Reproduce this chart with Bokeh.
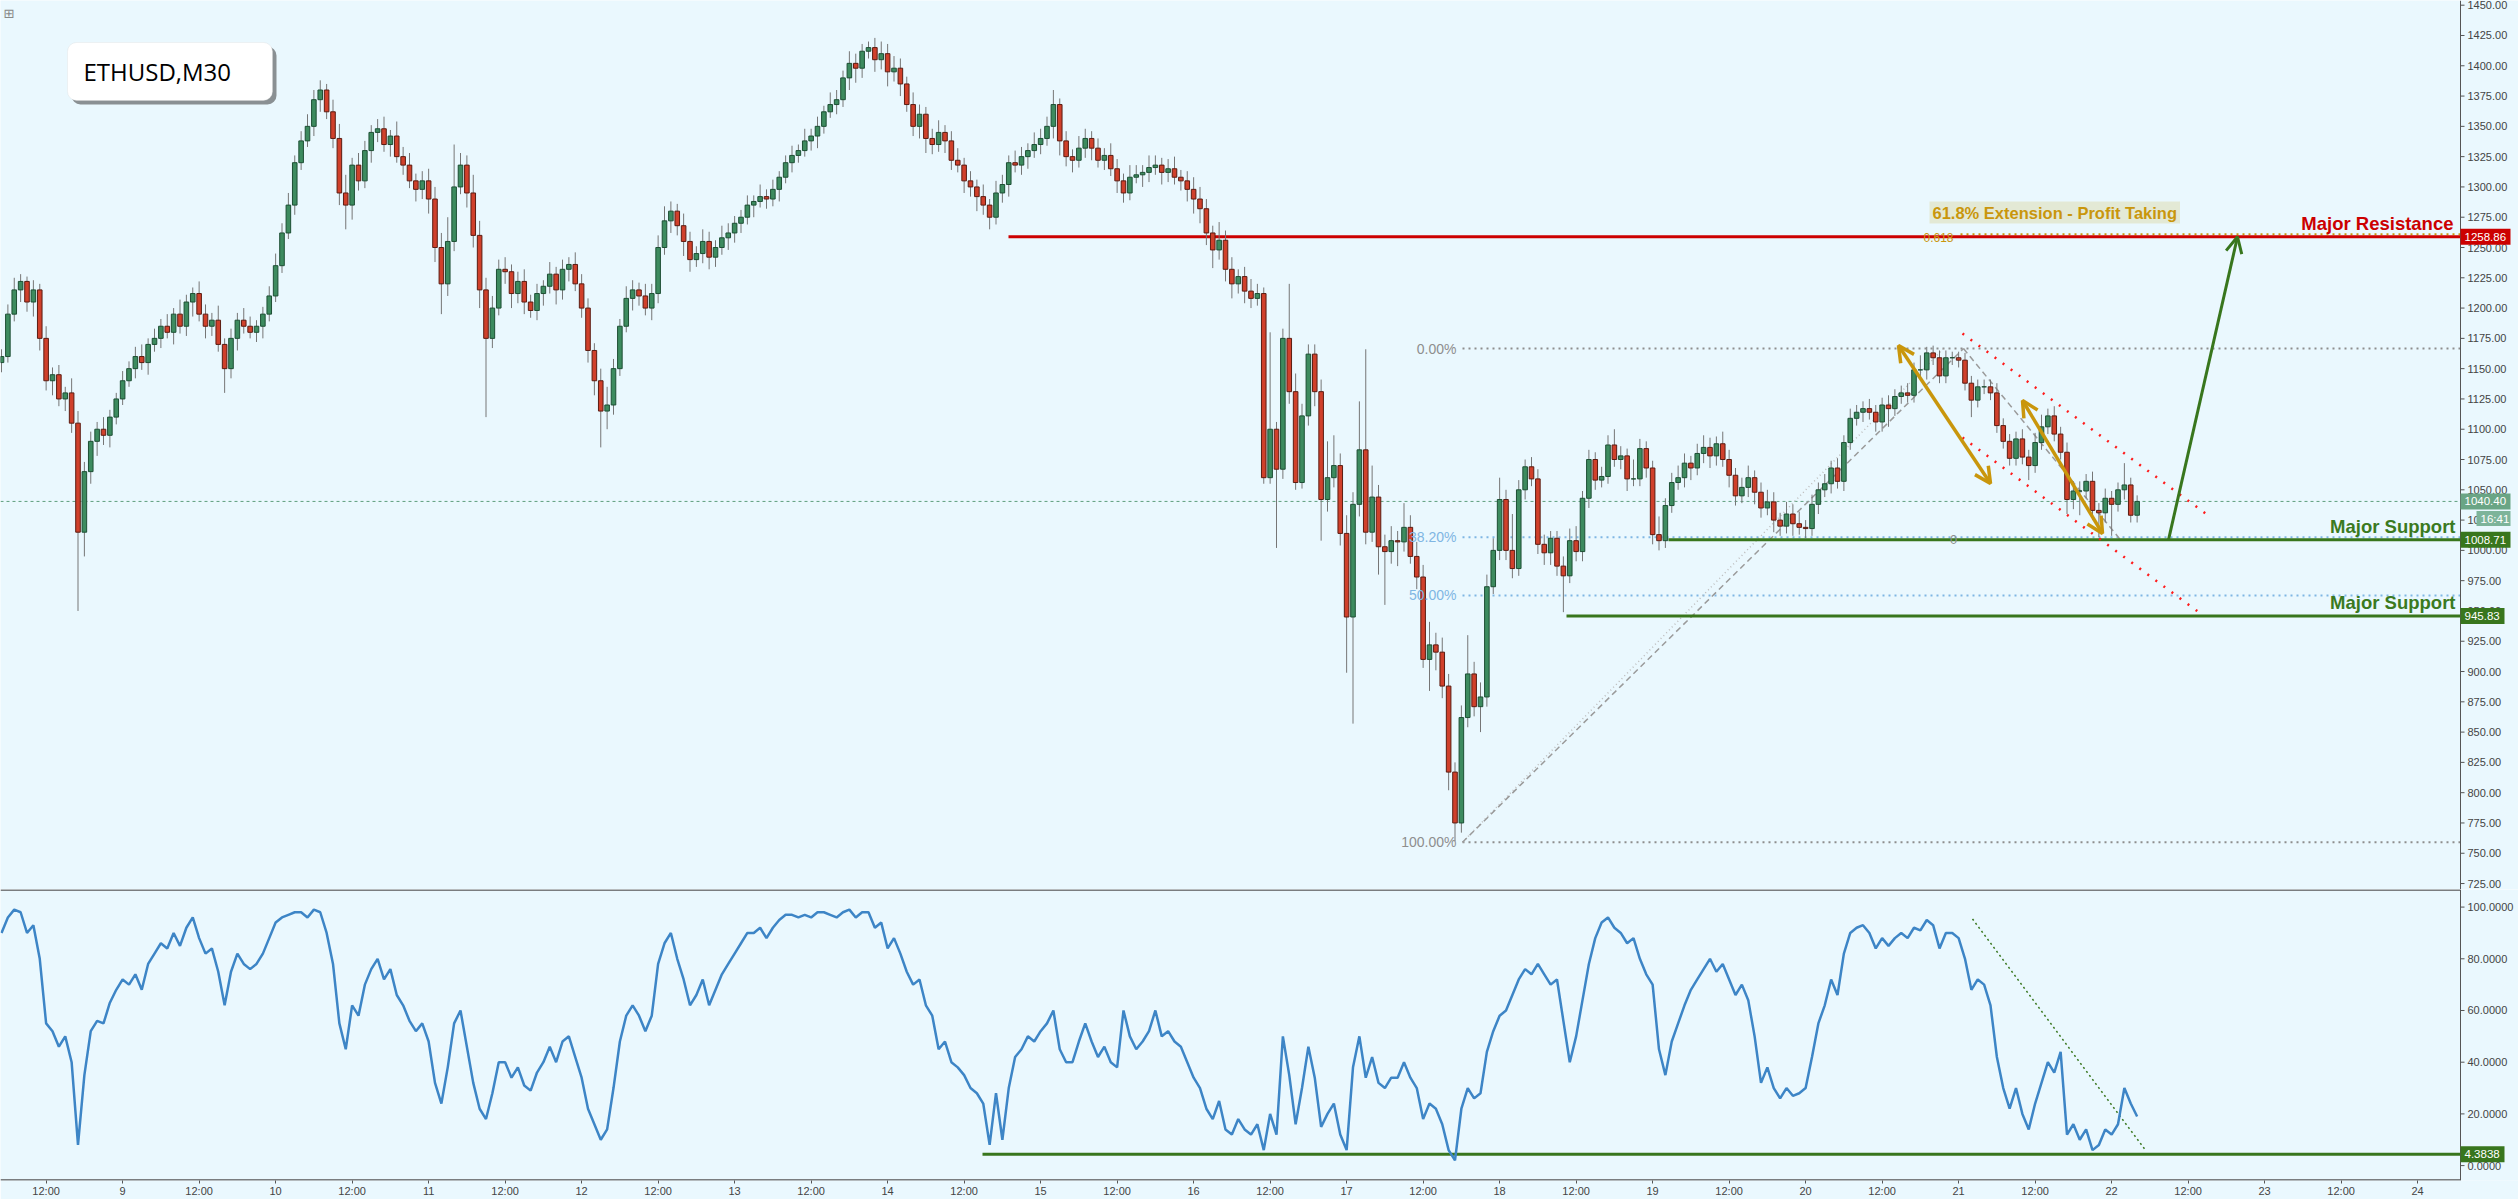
from bokeh.plotting import figure
from bokeh.layouts import column
from bokeh.models import (Range1d, FixedTicker, Label, BoxAnnotation, Arrow, OpenHead,
                          ColumnDataSource)
from bokeh.core.properties import value
from bokeh.embed import file_html
from bokeh.resources import INLINE

# ---------------- data (ETHUSD, hourly resampled from the M30 chart) ----------------
first_open = 1155.0
closes = [
    1160,1195,1215,1222,1205,1215,1175,1140,1145,1125,1130,1105,1015,1065,1090,1100,1095,1110,1125,1140,
    1150,1160,1155,1170,1175,1185,1180,1195,1185,1205,1212,1195,1185,1190,1170,1150,1175,1190,1185,1180,1185,1195,1210,1235,
    1262,1285,1320,1338,1350,1372,1380,1362,1340,1295,1285,1318,1305,1330,1345,1348,1335,1342,1325,1318,1305,1298,1305,1290,
    1250,1220,1255,1300,1318,1295,1260,1215,1175,1200,1232,1230,1212,1222,1205,1198,1212,1218,1228,1215,1232,1236,1220,1200,
    1165,1140,1115,1120,1150,1185,1208,1215,1210,1200,1212,1250,1272,1280,1268,1255,1240,1245,1255,1242,1250,1258,1262,1270,
    1275,1285,1288,1292,1290,1298,1308,1320,1326,1330,1338,1342,1350,1362,1368,1372,1390,1402,1398,1412,1415,1405,1410,1395,
    1398,1385,1368,1350,1360,1340,1335,1345,1338,1322,1318,1305,1300,1292,1285,1275,1295,1302,1320,1318,1325,1330,1335,1340,
    1350,1368,1338,1325,1322,1332,1340,1332,1322,1326,1315,1305,1295,1308,1310,1312,1316,1318,1312,1315,1308,1305,1298,1290,
    1282,1262,1248,1256,1232,1220,1226,1214,1208,1212,1060,1100,1067,1175,1131,1056,1111,1162,1131,1042,1060,1070,1014,945,
    1038,1083,1015,1044,1003,999,1008,1007,1019,995,978,910,922,916,888,817,775,862,898,871,879,970,1000,1042,
    1000,985,1050,1069,1059,1005,998,1010,987,979,1008,999,1043,1075,1058,1061,1087,1075,1078,1059,1059,1084,1068,1013,
    1008,1037,1056,1060,1072,1068,1080,1085,1078,1088,1075,1062,1045,1052,1060,1048,1035,1040,1025,1020,1030,1022,1019,1018,
    1038,1050,1055,1068,1057,1089,1109,1114,1117,1114,1106,1120,1117,1127,1130,1128,1149,1149,1163,1159,1144,1159,1159,1157,
    1138,1124,1135,1135,1130,1103,1090,1076,1092,1077,1070,1089,1102,1111,1096,1081,1042,1049,1049,1057,1033,1031,1043,1038,
    1050,1054,1029,1040.4,
]
wick_up = [
    6,8,10,6,4,8,5,10,6,8,5,12,10,8,8,6,10,6,5,8,
    6,8,10,5,8,6,10,5,12,6,5,10,8,6,12,5,8,6,10,8,5,6,8,10,
    8,10,6,8,10,8,8,5,10,12,15,6,10,8,6,8,10,5,12,8,10,6,8,10,
    10,12,20,35,10,8,15,12,10,10,8,10,6,8,10,6,8,5,10,6,8,6,10,8,
    8,6,10,15,8,6,10,8,6,10,8,10,12,8,6,10,8,6,10,8,6,10,8,6,
    6,8,5,10,6,8,5,6,8,5,10,6,8,5,10,8,6,10,8,6,5,8,10,8,
    10,8,6,10,8,6,8,10,6,8,10,6,8,6,10,5,10,8,6,10,8,6,10,8,
    8,12,5,8,6,10,8,6,8,6,10,8,6,10,8,6,10,8,6,8,10,6,8,10,
    10,8,6,15,8,10,6,8,10,8,5,80,6,8,45,15,10,8,8,10,30,25,10,15,
    10,40,83,26,10,10,12,8,20,10,12,10,19,10,12,10,8,10,32,10,12,10,10,18,
    8,30,8,6,8,8,8,6,6,8,10,12,6,8,6,8,8,13,8,6,16,8,6,6,
    15,6,8,10,8,6,8,10,8,6,10,8,6,8,10,6,8,10,8,6,10,8,10,6,
    8,6,8,6,8,6,8,6,6,8,6,6,8,6,6,8,6,12,5,6,6,6,5,5,
    6,6,6,6,6,8,6,6,6,8,6,8,10,6,8,6,8,8,8,6,8,6,8,6,
    6,18,6,5,
]
wick_dn = [
    8,5,6,10,8,12,10,8,12,6,10,8,65,20,10,12,8,10,6,5,
    5,8,6,10,6,8,5,10,6,8,12,6,10,8,6,20,8,10,6,5,8,10,6,5,
    6,5,8,6,5,8,10,6,8,10,20,12,8,6,10,8,6,10,5,8,6,10,8,12,
    12,25,10,8,6,12,10,15,65,8,6,10,12,8,10,6,8,10,6,12,8,10,6,8,
    10,12,30,15,8,6,5,10,8,6,10,8,6,10,8,12,10,6,8,10,8,6,10,8,
    8,6,10,5,8,6,10,5,8,6,5,8,10,6,5,8,6,10,12,8,6,10,8,12,
    8,10,6,8,10,12,8,6,10,8,6,10,8,12,8,10,6,8,10,6,8,10,6,8,
    6,10,12,8,10,6,8,10,6,8,6,10,8,6,5,10,8,6,10,8,6,8,10,12,
    12,10,15,8,10,12,8,10,8,6,5,5,65,8,10,6,5,8,12,34,10,8,10,46,
    88,10,10,8,23,44,10,20,8,6,10,7,26,15,10,15,15,8,8,8,21,8,6,8,
    8,8,6,8,6,8,10,10,8,30,6,8,8,8,8,6,6,6,8,10,6,6,8,8,
    8,6,6,6,8,10,6,8,10,8,6,10,8,6,8,10,8,6,10,8,6,10,6,8,
    6,8,6,8,6,8,6,6,8,6,8,8,15,6,6,6,6,6,8,6,6,6,6,6,
    6,14,6,6,6,6,6,6,6,6,12,6,6,6,6,6,12,8,20,6,8,20,8,26,
    6,8,6,6,
]
rsi = [
    90,96,99,98,90,93,80,55,52,46,50,40,8,35,52,56,55,63,68,72,
    70,74,68,78,82,86,84,90,85,92,96,88,82,84,75,62,75,82,78,76,78,82,88,94,
    96,97,98,98,96,99,98,90,78,55,45,62,58,70,76,80,72,76,66,62,56,52,55,48,
    32,24,38,55,60,46,32,22,18,28,40,40,34,38,31,29,36,40,46,40,48,50,42,34,
    22,16,10,14,30,48,58,62,58,52,58,78,86,90,80,72,62,66,72,62,68,74,78,82,
    86,90,90,92,88,92,95,97,97,96,97,96,98,98,97,96,98,99,96,98,98,92,94,84,
    88,82,75,70,72,62,58,45,48,40,38,35,30,28,24,8,28,10,30,42,45,50,48,52,
    55,60,45,40,40,48,55,48,42,46,40,38,60,50,45,48,52,60,50,52,48,46,40,34,
    30,22,18,25,14,12,18,14,12,16,6,20,12,50,35,16,30,46,34,15,20,24,12,6,
    38,50,34,42,32,30,34,34,40,34,30,18,24,22,16,6,2,22,30,26,28,44,52,58,
    60,66,72,76,74,78,74,70,72,56,40,50,64,78,88,94,96,92,90,86,88,80,74,70,
    45,35,48,55,62,68,72,76,80,75,78,72,66,70,64,50,32,38,30,26,30,27,28,30,
    42,55,62,72,66,82,90,92,93,90,84,88,85,88,90,88,92,91,95,93,84,90,90,88,
    80,68,72,70,62,42,30,22,30,20,14,24,32,40,36,44,12,16,10,14,6,8,14,12,
    16,30,24,19,
]
first_bar_hour = 5            # first bar: Jan 8, 05:00
axis_days = ["9","10","11","12","13","14","15","16","17","18","19","20","21","22","23","24"]
price_ticks = list(range(725, 1451, 25))
rsi_ticks = [0, 20, 40, 60, 80, 100]

resistance = 1258.86
supports = [1008.71, 945.83]
last_price = 1040.40
last_time = "16:41"
rsi_support = 4.3838
fib_high, fib_low = 1166.6, 759.1
fib_levels = [("0.00%", 0.0), ("38.20%", 0.382), ("50.00%", 0.5), ("100.00%", 1.0)]
ext_level = 1261.0

# ---------------- styling / helpers ----------------
BG = "#eaf8fe"
GREEN = "#38761d"
RED = "#cc0000"
GOLD = "#c9960c"
AX = "#555555"
FONT = "Liberation Sans"
W, H_PRICE, H_RSI = 2518, 889, 310
AXIS_PX = 2460                 # pixel column of the price / RSI scale

def hx(px):          # reference pixel column -> hours
    return (px - 1.0) / 6.375

def py(px):          # reference pixel row -> price
    return 1450 - (px - 4.7) / 1.2115

def dxp(px):         # pixel width -> hours
    return px / 6.375

X_START, X_END, X_AX = hx(0), hx(W), hx(AXIS_PX)
Y_LO, Y_HI = py(H_PRICE), py(0)
R_LO, R_HI = -5.76, 106.8
RSI_FRAME_H = H_RSI - 21
P_PX = (Y_HI - Y_LO) / H_PRICE          # price units per pixel
R_PX = (R_HI - R_LO) / RSI_FRAME_H      # rsi units per pixel

n = min(len(closes), len(wick_up), len(wick_dn))
hours = list(range(n))
opens = [first_open] + closes[:n - 1]
tops = [max(o, c) for o, c in zip(opens, closes)]
bots = [min(o, c) for o, c in zip(opens, closes)]
highs = [t + w for t, w in zip(tops, wick_up)]
lows = [b - w for b, w in zip(bots, wick_dn)]
up = [c >= o for o, c in zip(opens, closes)]

src_up = ColumnDataSource(dict(
    x=[h for h, u in zip(hours, up) if u], top=[t for t, u in zip(tops, up) if u],
    bottom=[b for b, u in zip(bots, up) if u]))
src_dn = ColumnDataSource(dict(
    x=[h for h, u in zip(hours, up) if not u], top=[t for t, u in zip(tops, up) if not u],
    bottom=[b for b, u in zip(bots, up) if not u]))
src_wick = ColumnDataSource(dict(x=hours, hi=highs, lo=lows))


def mk_label(fig, **kw):
    extra = {}
    for k in ("padding", "border_radius"):
        if k in kw:
            extra[k] = kw.pop(k)
    try:
        lab = Label(**kw, **extra)
    except Exception:
        lab = Label(**kw)
    fig.add_layout(lab)
    return lab


def price_scale(fig, ticks, fmt, lo, hi):
    """Right-hand value scale drawn inside the extended frame."""
    fig.segment(x0=[X_AX], y0=[lo], x1=[X_AX], y1=[hi], line_color=AX, line_width=1)
    fig.segment(x0=[X_AX] * len(ticks), y0=ticks, x1=[X_AX + dxp(4)] * len(ticks), y1=ticks,
                line_color=AX, line_width=1)
    fig.text(x=[X_AX + dxp(7)] * len(ticks), y=ticks, text=[fmt % t for t in ticks],
             text_font=value(FONT), text_font_size=value("11px"), text_color="#444444",
             text_align="left", text_baseline="middle")


def tag(fig, yv, txt, bg, unit, x0=AXIS_PX, w=50, h=16):
    fig.quad(left=[hx(x0)], right=[hx(x0 + w)], bottom=[yv - unit * h / 2],
             top=[yv + unit * h / 2], fill_color=bg, line_color=None)
    fig.text(x=[hx(x0 + 4)], y=[yv], text=[txt], text_font=value(FONT),
             text_font_size=value("11.5px"), text_color="white", text_align="left",
             text_baseline="middle")


# ---------------- price panel ----------------
p = figure(width=W, height=H_PRICE, x_range=Range1d(X_START, X_END), y_range=Range1d(Y_LO, Y_HI),
           output_backend="svg", toolbar_location=None, x_axis_location=None,
           y_axis_location=None, min_border=0)
p.background_fill_color = BG
p.border_fill_color = BG
p.outline_line_color = None
p.grid.visible = False

# current price line
p.segment(x0=[X_START], y0=[last_price], x1=[X_AX], y1=[last_price], line_color="#5e9e7e",
          line_dash="3 3", line_width=1)

# fibonacci retracement levels
fx0 = hx(1462)
for name, f in fib_levels:
    lvl = fib_high - f * (fib_high - fib_low)
    col = "#8e8e8e" if f in (0.0, 1.0) else "#7fb6e3"
    p.segment(x0=[fx0], y0=[lvl], x1=[X_AX], y1=[lvl], line_color=col, line_width=2,
              line_dash="2 4")
    mk_label(p, x=hx(1456), y=lvl, text=name, text_align="right", text_baseline="middle",
             text_font=FONT, text_font_size="14px", text_color=col)

# fib trend lines
p.segment(x0=[fx0], y0=[fib_low], x1=[hx(1943)], y1=[fib_high], line_color="#bdbdbd",
          line_width=1.5, line_dash="1 3")
p.segment(x0=[fx0, hx(1963)], y0=[fib_low, fib_high], x1=[hx(1963), hx(2120)],
          y1=[fib_high, supports[0]], line_color="#9a9a9a", line_width=1.5, line_dash="6 4")
mk_label(p, x=hx(1953), y=supports[0], text="0", text_align="center", text_baseline="middle",
         text_font=FONT, text_font_size="13px", text_color="#8e8e8e")

# extension level
p.segment(x0=[hx(1960)], y0=[ext_level], x1=[X_AX], y1=[ext_level], line_color=GOLD,
          line_width=2, line_dash="2 4")
mk_label(p, x=hx(1923), y=ext_level - 3, text="0.618", text_align="left", text_baseline="middle",
         text_font=FONT, text_font_size="12px", text_color=GOLD)

# resistance / support lines
p.segment(x0=[hx(1008)], y0=[resistance], x1=[X_AX], y1=[resistance], line_color=RED, line_width=3)
p.segment(x0=[hx(1668), hx(1566)], y0=supports, x1=[X_AX, X_AX], y1=supports,
          line_color=GREEN, line_width=3)

# descending channel (red dotted)
p.segment(x0=[hx(1962), hx(1962)], y0=[py(333), py(437)], x1=[hx(2205), hx(2200)],
          y1=[py(513), py(613)], line_color="#ff1a1a", line_width=2.5, line_dash="2 8")

# candles
p.segment(x0="x", y0="lo", x1="x", y1="hi", source=src_wick, line_color="#767676", line_width=1)
p.vbar(x="x", width=0.72, top="top", bottom="bottom", source=src_up,
       fill_color="#3d8b5f", line_color="#1d4f34", line_width=1)
p.vbar(x="x", width=0.72, top="top", bottom="bottom", source=src_dn,
       fill_color="#d0402b", line_color="#5b1c12", line_width=1)

# arrows
for (xa, ya, xb, yb) in [(1898, 345, 1990, 483), (2022, 400, 2102, 533)]:
    p.add_layout(Arrow(x_start=hx(xa), y_start=py(ya), x_end=hx(xb), y_end=py(yb),
                       line_color=GOLD, line_width=3.5,
                       start=OpenHead(line_color=GOLD, line_width=3.5, size=16),
                       end=OpenHead(line_color=GOLD, line_width=3.5, size=16)))
p.add_layout(Arrow(x_start=hx(2168), y_start=supports[0], x_end=hx(2237), y_end=resistance,
                   line_color=GREEN, line_width=3,
                   end=OpenHead(line_color=GREEN, line_width=3, size=16)))

# text annotations
mk_label(p, x=hx(2453), y=resistance, y_offset=3, text="Major Resistance", text_align="right",
         text_baseline="bottom", text_font=FONT, text_font_size="18.5px",
         text_font_style="bold", text_color=RED)
for s in supports:
    mk_label(p, x=hx(2455), y=s, y_offset=3, text="Major Support", text_align="right",
             text_baseline="bottom", text_font=FONT, text_font_size="18.5px",
             text_font_style="bold", text_color="#3b7a1f")
mk_label(p, x=hx(1929), y=py(212), text="61.8% Extension - Profit Taking", text_align="left",
         text_baseline="middle", text_font=FONT, text_font_size="16.5px", text_font_style="bold",
         text_color=GOLD, background_fill_color="#e3e9d5", padding=(3, 2))

# title box
def box(**kw):
    try:
        b = BoxAnnotation(**kw, border_radius=9)
    except Exception:
        b = BoxAnnotation(**kw)
    p.add_layout(b)

box(left=hx(71), right=hx(276), top=py(46), bottom=py(104), fill_color="#3a3a3a",
    fill_alpha=0.55, line_color=None)
box(left=hx(67), right=hx(272), top=py(42), bottom=py(100), fill_color="white",
    fill_alpha=1.0, line_color="#d8d8d8", line_width=1)
mk_label(p, x=hx(83), y=py(71), text="ETHUSD,M30", text_align="left", text_baseline="middle",
         text_font="Open Sans", text_font_size="24px", text_color="black")
mk_label(p, x=hx(3), y=py(13), text="\u229e", text_align="left", text_baseline="middle",
         text_font="DejaVu Sans", text_font_size="13px", text_color="#888888")

# price scale + tags
price_scale(p, price_ticks, "%.2f", Y_LO, Y_HI)
tag(p, resistance, "%.2f" % resistance, RED, P_PX)
tag(p, last_price, "%.2f" % last_price, "#6aa585", P_PX)
tag(p, py(518), last_time, "#7db49a", P_PX, x0=AXIS_PX + 16, w=34, h=15)
tag(p, supports[0], "%.2f" % supports[0], GREEN, P_PX)
tag(p, supports[1], "%.2f" % supports[1], GREEN, P_PX, w=44)

# ---------------- RSI panel ----------------
r = figure(width=W, height=H_RSI, x_range=p.x_range, y_range=Range1d(R_LO, R_HI),
           output_backend="svg", toolbar_location=None, y_axis_location=None,
           min_border_left=0, min_border_top=0, min_border_right=0, min_border_bottom=17)
r.background_fill_color = BG
r.border_fill_color = BG
r.outline_line_color = None
r.grid.visible = False
xa = r.xaxis[0]
xa.axis_line_color = None
xa.major_tick_line_color = AX
xa.minor_tick_line_color = None
xa.major_tick_in = 0
xa.major_tick_out = 3
xa.major_label_standoff = 1
xa.major_label_text_font = FONT
xa.major_label_text_font_size = "11px"
xa.major_label_text_color = "#444444"
day0 = 24 - first_bar_hour            # hour index of Jan 9 00:00
tick_pos, tick_lab = [], {}
for i, d in enumerate(axis_days):
    mid = day0 + 24 * i
    tick_pos += [mid - 12, mid]
    tick_lab[mid - 12] = "12:00"
    tick_lab[mid] = d
xa.ticker = FixedTicker(ticks=tick_pos)
xa.major_label_overrides = tick_lab

# panel frame lines (separator on top, time axis line at bottom)
r.segment(x0=[X_START, X_START], y0=[R_HI - 0.5 * R_PX, R_LO + 0.6 * R_PX],
          x1=[X_AX, X_AX], y1=[R_HI - 0.5 * R_PX, R_LO + 0.6 * R_PX],
          line_color=AX, line_width=1.5)
r.segment(x0=[hx(982)], y0=[rsi_support], x1=[X_AX], y1=[rsi_support], line_color=GREEN,
          line_width=3)
r.segment(x0=[hx(1972)], y0=[95.4], x1=[hx(2144)], y1=[6.5], line_color=GREEN, line_width=1.5,
          line_dash="2 3")
r.line(hours, rsi[:n], line_color="#3d85c6", line_width=2.5)
price_scale(r, rsi_ticks, "%.4f", R_LO, R_HI)
tag(r, rsi_support, "%.4f" % rsi_support, GREEN, R_PX, w=44)

layout = column(p, r, spacing=0)
open("out.html", "w").write(file_html(layout, INLINE))
